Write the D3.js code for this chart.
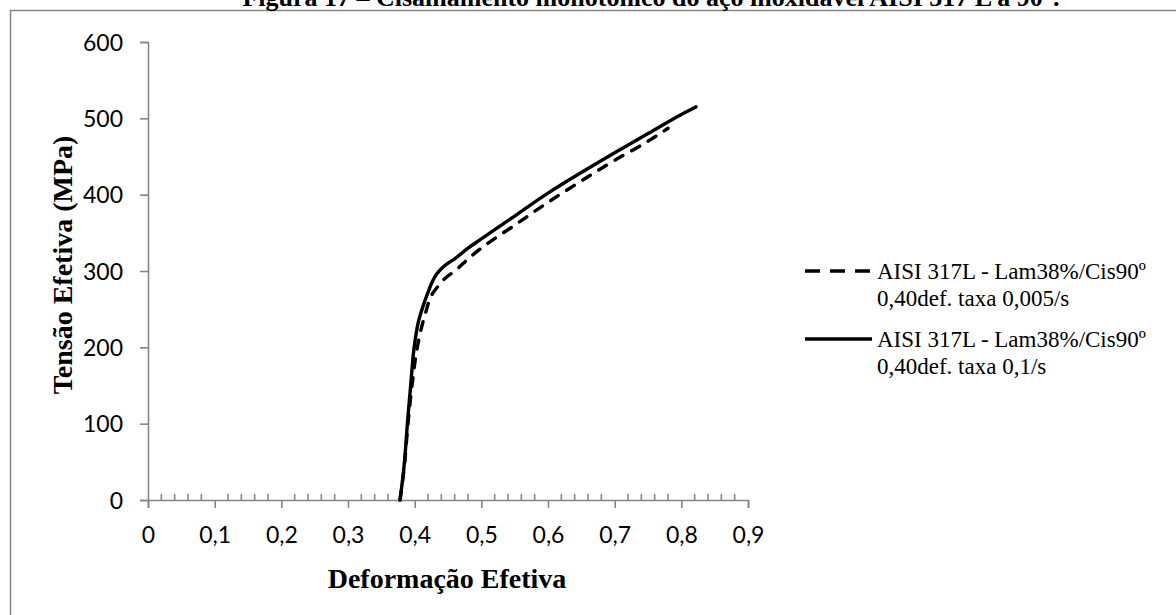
<!DOCTYPE html>
<html lang="pt">
<head>
<meta charset="utf-8">
<script src="https://d3js.org/d3.v7.min.js"></script>
<style>
  html, body { margin: 0; padding: 0; background: #fff; overflow: hidden; }
  .tick text { font-family: Lato, "Open Sans", sans-serif; font-size: 23px; fill: #000; }
</style>
</head>
<body>
<script>
// dados
var xTicks = [0, 0.1, 0.2, 0.3, 0.4, 0.5, 0.6, 0.7, 0.8, 0.9];
var yTicks = [0, 100, 200, 300, 400, 500, 600];

// taxa 0,005/s (tracejada)
var lentaX = [0.378, 0.384, 0.390, 0.396, 0.403, 0.410, 0.418, 0.425, 0.435, 0.445, 0.460, 0.483, 0.500, 0.550, 0.600, 0.650, 0.700, 0.750, 0.780];
var lentaY = [0, 40, 100, 150, 195, 225, 250, 268, 280, 290, 300, 318, 330, 360, 390, 418, 445, 470, 487];

// taxa 0,1/s (contínua)
var rapidaX = [0.378, 0.383, 0.390, 0.394, 0.400, 0.406, 0.413, 0.420, 0.427, 0.433, 0.440, 0.448, 0.460, 0.480, 0.500, 0.550, 0.600, 0.650, 0.700, 0.750, 0.800, 0.822];
var rapidaY = [0, 35, 110, 150, 205, 235, 255, 272, 287, 296, 303, 309, 316, 330, 342, 372, 402, 429, 455, 480, 505, 515];

var legendas = [
  ["AISI 317L - Lam38%/Cis90º", "0,40def. taxa 0,005/s"],
  ["AISI 317L - Lam38%/Cis90º", "0,40def. taxa 0,1/s"]
];

var serif = '"Liberation Serif", "Times New Roman", "DejaVu Serif", serif';
var width = 1176, height = 615;
var svg = d3.select("body").append("svg").attr("width", width).attr("height", height);

// moldura
svg.append("rect").attr("x", 10.5).attr("y", 10.5).attr("width", 1200).attr("height", 700)
  .attr("fill", "none").attr("stroke", "#868686").attr("stroke-width", 1.5);

// título (cortado no topo)
svg.append("text")
  .attr("x", 651).attr("y", 6).attr("text-anchor", "middle")
  .style("font-family", serif).style("font-size", "26px").style("font-weight", "bold")
  .text("Figura 17 – Cisalhamento monotônico do aço inoxidável AISI 317 L a 90°.");

var x = d3.scaleLinear().domain([0, 0.9]).range([148, 748]);
var y = d3.scaleLinear().domain([0, 600]).range([500, 42]);

// eixo X
var gx = svg.append("g").attr("transform", "translate(0,500)")
  .call(d3.axisBottom(x).tickValues(xTicks).tickSize(8)
    .tickFormat(function(d){ return d === 0 ? "0" : d3.format(".1f")(d).replace(".", ","); }));
gx.selectAll(".tick text").attr("dy", null).attr("y", 43);
// marcas menores (para dentro)
gx.append("g").selectAll("line")
  .data(d3.range(1, 45).filter(function(i){ return i % 5 !== 0; }).map(function(i){ return i * 0.02; }))
  .enter().append("line")
  .attr("x1", function(d){ return x(d); }).attr("x2", function(d){ return x(d); })
  .attr("y1", 0).attr("y2", -6);

// eixo Y
var gy = svg.append("g").attr("transform", "translate(148,0)")
  .call(d3.axisLeft(y).tickValues(yTicks).tickSize(8));
gy.selectAll(".tick text").attr("x", -25).attr("dy", "0.35em");

svg.selectAll(".domain, .tick line, g line").attr("stroke", "#868686").attr("stroke-width", 1.6);

// títulos dos eixos
svg.append("text")
  .attr("x", 447).attr("y", 588).attr("text-anchor", "middle")
  .style("font-family", serif).style("font-size", "28px").style("font-weight", "bold")
  .text("Deformação Efetiva");
svg.append("text")
  .attr("transform", "translate(72,265) rotate(-90)").attr("text-anchor", "middle")
  .style("font-family", serif).style("font-size", "28px").style("font-weight", "bold")
  .text("Tensão Efetiva (MPa)");

// curvas
var linha = d3.line().x(function(d){ return x(d[0]); }).y(function(d){ return y(d[1]); }).curve(d3.curveMonotoneY);
var lenta = d3.zip(lentaX, lentaY);
var rapida = d3.zip(rapidaX, rapidaY);

svg.append("path").datum(lenta).attr("d", linha)
  .attr("fill", "none").attr("stroke", "#000").attr("stroke-width", 3.4)
  .attr("stroke-dasharray", "9,10").attr("stroke-linecap", "round");
svg.append("path").datum(rapida).attr("d", linha)
  .attr("fill", "none").attr("stroke", "#000").attr("stroke-width", 3.4)
  .attr("stroke-linecap", "round");

// legenda
var leg = svg.append("g");
[0, 1].forEach(function(i){
  var ly = 271 + i * 68;
  var l = leg.append("line").attr("x1", 805).attr("x2", 872).attr("y1", ly).attr("y2", ly)
    .attr("stroke", "#000").attr("stroke-width", 3.4);
  if (i === 0) l.attr("stroke-dasharray", "15,10");
  leg.append("text").attr("x", 877).attr("y", ly + 8)
    .style("font-family", serif).style("font-size", "23px").text(legendas[i][0]);
  leg.append("text").attr("x", 877).attr("y", ly + 35)
    .style("font-family", serif).style("font-size", "23px").text(legendas[i][1]);
});
</script>
</body>
</html>
